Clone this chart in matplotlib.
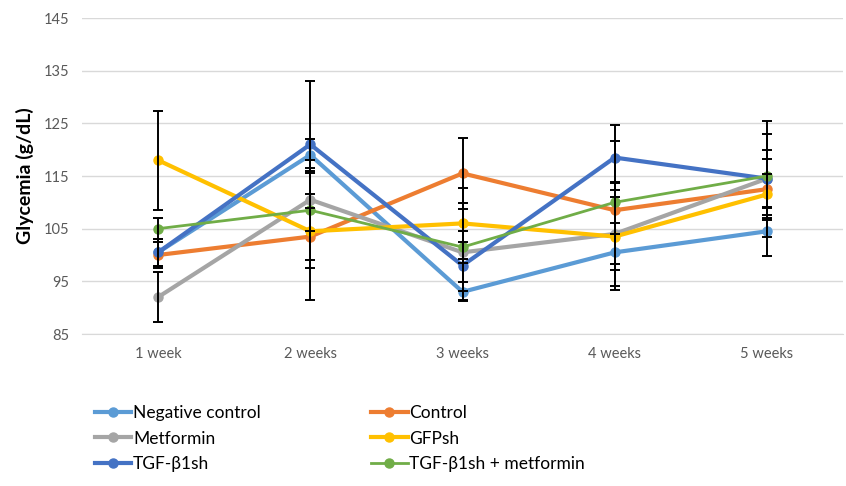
import numpy as np
import matplotlib
matplotlib.use("Agg")
import matplotlib.pyplot as plt

weeks = ["1 week", "2 weeks", "3 weeks", "4 weeks", "5 weeks"]
groups = ["Negative control", "Control", "Metformin", "GFPsh", "TGF-β1sh", "TGF-β1sh + metformin"]

neg_control = [100.5, 119.0, 93.0, 100.5, 104.5]
control = [100.0, 103.5, 115.5, 108.5, 112.5]
metformin = [92.0, 110.5, 100.5, 104.0, 114.5]
gfpsh = [118.0, 104.5, 106.0, 103.5, 111.5]
tgfsh = [100.5, 121.0, 98.0, 118.5, 114.5]
tgfsh_met = [105.0, 108.5, 101.5, 110.0, 115.0]

neg_control_err = [2.6, 3.0, 1.8, 3.4, 4.7]
control_err = [2.5, 12.0, 6.7, 2.5, 5.8]
metformin_err = [4.8, 6.0, 2.0, 9.8, 11.0]
gfpsh_err = [9.4, 7.0, 6.7, 10.2, 3.9]
tgfsh_err = [2.6, 12.0, 6.6, 6.2, 5.5]
tgfsh_met_err = [2.0, 9.5, 8.4, 11.7, 8.0]

values = [neg_control, control, metformin, gfpsh, tgfsh, tgfsh_met]
errors = [neg_control_err, control_err, metformin_err, gfpsh_err, tgfsh_err, tgfsh_met_err]
colors = ["#5B9BD5", "#ED7D31", "#A5A5A5", "#FFC000", "#4472C4", "#70AD47"]
widths = [3, 3, 3, 3, 3, 2]

plt.rcParams['font.family'] = ['Lato', 'DejaVu Sans']

fig = plt.figure(figsize=(8.46, 4.86), dpi=100)
ax = fig.add_axes([82 / 846, 1 - 334 / 486, 761 / 846, 316 / 486])

x = np.arange(len(weeks))
handles = []
for vals, errs, col, lw, name in zip(values, errors, colors, widths, groups):
    h, = ax.plot(x, vals, color=col, lw=lw, marker="o", ms=6.5, label=name, zorder=3)
    ax.errorbar(x, vals, yerr=errs, fmt="none", ecolor="black", elinewidth=1.4,
                capsize=3.5, capthick=1.4, zorder=4)
    handles.append(h)

ax.set_xlim(-0.5, len(weeks) - 0.5)
ax.set_ylim(85, 145)
ax.set_yticks(np.arange(85, 146, 10))
ax.set_xticks(x)
ax.set_xticklabels(weeks)
ax.grid(axis="y", color="#D9D9D9", lw=1)
ax.set_axisbelow(True)
for s in ["top", "right", "left"]:
    ax.spines[s].set_visible(False)
ax.spines["bottom"].set_color("#D9D9D9")
ax.tick_params(axis="both", length=0, labelsize=10.5, labelcolor="#595959")
ax.tick_params(axis="x", pad=9)
ax.tick_params(axis="y", pad=9)
ax.set_ylabel("Glycemia (g/dL)", fontsize=14, fontweight="bold", labelpad=7)

order = [0, 2, 4, 1, 3, 5]
leg = fig.legend([handles[i] for i in order], [groups[i] for i in order],
                 ncol=2, loc="upper left", bbox_to_anchor=(95 / 846, 1 - 405 / 486),
                 frameon=False, handlelength=2.1, handletextpad=0.1,
                 labelspacing=0.55, columnspacing=6.35, borderaxespad=0, borderpad=0,
                 fontsize=12.5)

fig.savefig("out.png", dpi=100)
